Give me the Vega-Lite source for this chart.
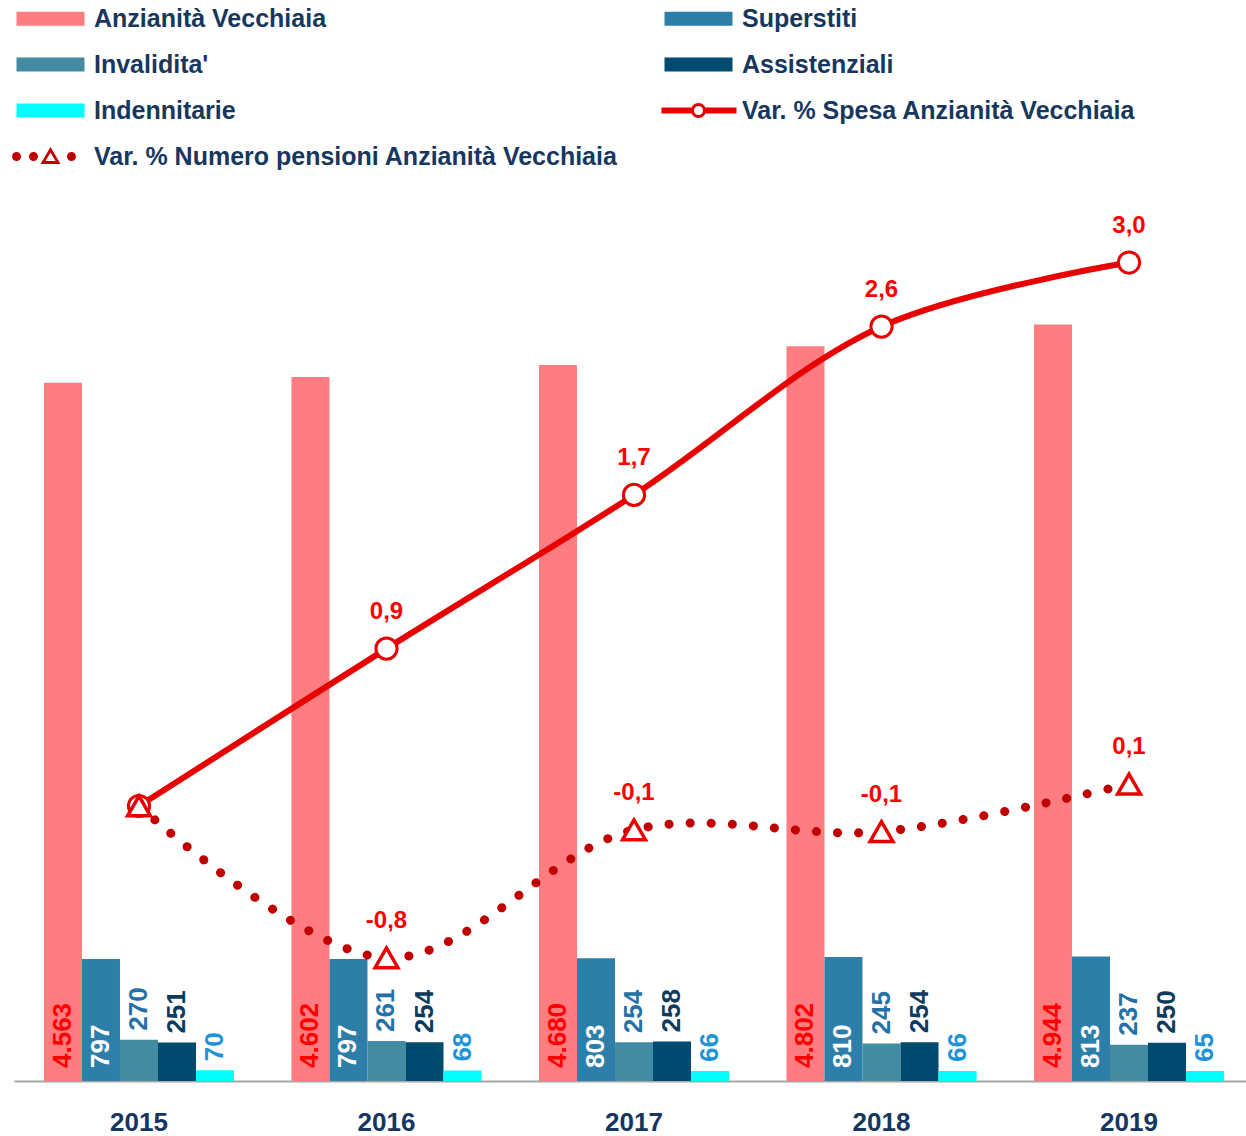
{
  "$schema": "https://vega.github.io/schema/vega-lite/v6.json",
  "width": 1240,
  "height": 918,
  "autosize": {"type": "none"},
  "padding": {"left": 14, "top": 163, "right": 0, "bottom": 55},
  "background": "white",
  "config": {
    "view": {"stroke": null},
    "font": "Liberation Sans",
    "locale": {"number": {"decimal": ",", "thousands": ".", "grouping": [3], "currency": ["€", ""], "minus": "-"}}
  },
  "datasets": {
    "bars": [
      {"year": "2015", "cat": "Anzianità Vecchiaia", "value": 4563},
      {"year": "2015", "cat": "Superstiti", "value": 797},
      {"year": "2015", "cat": "Invalidita'", "value": 270},
      {"year": "2015", "cat": "Assistenziali", "value": 251},
      {"year": "2015", "cat": "Indennitarie", "value": 70},
      {"year": "2016", "cat": "Anzianità Vecchiaia", "value": 4602},
      {"year": "2016", "cat": "Superstiti", "value": 797},
      {"year": "2016", "cat": "Invalidita'", "value": 261},
      {"year": "2016", "cat": "Assistenziali", "value": 254},
      {"year": "2016", "cat": "Indennitarie", "value": 68},
      {"year": "2017", "cat": "Anzianità Vecchiaia", "value": 4680},
      {"year": "2017", "cat": "Superstiti", "value": 803},
      {"year": "2017", "cat": "Invalidita'", "value": 254},
      {"year": "2017", "cat": "Assistenziali", "value": 258},
      {"year": "2017", "cat": "Indennitarie", "value": 66},
      {"year": "2018", "cat": "Anzianità Vecchiaia", "value": 4802},
      {"year": "2018", "cat": "Superstiti", "value": 810},
      {"year": "2018", "cat": "Invalidita'", "value": 245},
      {"year": "2018", "cat": "Assistenziali", "value": 254},
      {"year": "2018", "cat": "Indennitarie", "value": 66},
      {"year": "2019", "cat": "Anzianità Vecchiaia", "value": 4944},
      {"year": "2019", "cat": "Superstiti", "value": 813},
      {"year": "2019", "cat": "Invalidita'", "value": 237},
      {"year": "2019", "cat": "Assistenziali", "value": 250},
      {"year": "2019", "cat": "Indennitarie", "value": 65}
    ],
    "lines": [
      {"year": "2015", "cat": "Var. % Spesa  Anzianità Vecchiaia", "value": 0},
      {"year": "2016", "cat": "Var. % Spesa  Anzianità Vecchiaia", "value": 0.86},
      {"year": "2017", "cat": "Var. % Spesa  Anzianità Vecchiaia", "value": 1.7},
      {"year": "2018", "cat": "Var. % Spesa  Anzianità Vecchiaia", "value": 2.62},
      {"year": "2019", "cat": "Var. % Spesa  Anzianità Vecchiaia", "value": 2.97},
      {"year": "2015", "cat": "Var. % Numero pensioni  Anzianità Vecchiaia", "value": 0},
      {"year": "2016", "cat": "Var. % Numero pensioni  Anzianità Vecchiaia", "value": -0.83},
      {"year": "2017", "cat": "Var. % Numero pensioni  Anzianità Vecchiaia", "value": -0.13},
      {"year": "2018", "cat": "Var. % Numero pensioni  Anzianità Vecchiaia", "value": -0.14},
      {"year": "2019", "cat": "Var. % Numero pensioni  Anzianità Vecchiaia", "value": 0.12}
    ]
  },
  "encoding": {
    "x": {
      "field": "year",
      "type": "ordinal",
      "scale": {"paddingInner": 0.232, "paddingOuter": 0.121},
      "axis": {
        "title": null,
        "labelAngle": 0,
        "ticks": false,
        "labelPadding": 28,
        "labelFontSize": 26,
        "labelFontWeight": "bold",
        "labelColor": "#153660",
        "labelFont": "Liberation Sans",
        "domainColor": "#A6A6A6",
        "domainWidth": 2,
        "grid": false
      }
    }
  },
  "layer": [
    {
      "data": {"name": "bars"},
      "encoding": {
        "xOffset": {
          "field": "cat",
          "type": "nominal",
          "sort": ["Anzianità Vecchiaia", "Superstiti", "Invalidita'", "Assistenziali", "Indennitarie"],
          "scale": {"paddingInner": 0, "paddingOuter": 0}
        }
      },
      "layer": [
        {
          "mark": {"type": "bar"},
          "encoding": {
            "y": {"field": "value", "type": "quantitative", "scale": {"domain": [0, 6000], "nice": false}, "axis": null},
            "color": {
              "field": "cat",
              "type": "nominal",
              "scale": {
                "domain": ["Anzianità Vecchiaia", "Invalidita'", "Indennitarie", "Var. % Numero pensioni  Anzianità Vecchiaia", "Superstiti", "Assistenziali", "Var. % Spesa  Anzianità Vecchiaia"],
                "range": ["#FF7C80", "#418CA2", "#00FFFF", "#C00000", "#2E7EAA", "#024B70", "#E80000"]
              },
              "legend": {
                "orient": "none",
                "legendX": 0,
                "legendY": -157,
                "columns": 2,
                "columnPadding": 36,
                "rowPadding": 20,
                "title": null,
                "symbolSize": 400,
                "symbolType": "M-1,-0.7H5.8V0.7H-1Z",
                "labelOffset": 55,
                "labelFont": "Liberation Sans",
                "labelFontSize": 25,
                "labelFontWeight": "bold",
                "labelColor": "#17375E",
                "labelLimit": 0,
                "encode": {
                  "symbols": {
                    "update": {
                      "shape": {"signal": "datum.index === 6 ? 'M-1.3,-0.3H1.7V0.3H-1.3Z M3.1,-0.3H6.2V0.3H3.1Z M3.15,0A0.75,0.75,0,1,1,1.65,0A0.75,0.75,0,1,1,3.15,0Z M2.85,0A0.45,0.45,0,1,0,1.95,0A0.45,0.45,0,1,0,2.85,0Z' : datum.index === 3 ? 'M-0.55,0A0.45,0.45,0,1,1,-1.45,0A0.45,0.45,0,1,1,-0.55,0Z M1.15,0A0.45,0.45,0,1,1,0.25,0A0.45,0.45,0,1,1,1.15,0Z M4.95,0A0.45,0.45,0,1,1,4.05,0A0.45,0.45,0,1,1,4.95,0Z M2.4,-0.95L3.4,0.75L1.4,0.75Z M2.4,-0.4L1.9,0.45L2.9,0.45Z' : 'M-1,-0.7H5.8V0.7H-1Z'"},
                      "fill": {"scale": "color", "field": "value"},
                      "stroke": {"value": "transparent"},
                      "strokeWidth": {"value": 0},
                      "size": {"value": 400},
                      "opacity": {"value": 1}
                    }
                  }
                }
              }
            }
          }
        },
        {
          "transform": [{"filter": {"field": "cat", "oneOf": ["Anzianità Vecchiaia", "Superstiti"]}}],
          "mark": {"type": "text", "angle": 270, "align": "left", "baseline": "middle", "dx": 13, "fontSize": 26, "fontWeight": "bold", "font": "Liberation Sans"},
          "encoding": {
            "y": {"datum": 0},
            "text": {"field": "value", "type": "quantitative", "format": ",d"},
            "color": {"condition": {"test": "datum.cat === 'Superstiti'", "value": "#FFFFFF"}, "value": "#FF0000"}
          }
        },
        {
          "transform": [{"filter": {"field": "cat", "oneOf": ["Invalidita'", "Assistenziali", "Indennitarie"]}}],
          "mark": {"type": "text", "angle": 270, "align": "left", "baseline": "middle", "dx": 9, "fontSize": 26, "fontWeight": "bold", "font": "Liberation Sans"},
          "encoding": {
            "y": {"field": "value", "type": "quantitative"},
            "text": {"field": "value", "type": "quantitative", "format": ",d"},
            "color": {
              "condition": [
                {"test": "datum.cat === 'Assistenziali'", "value": "#0E3A5C"},
                {"test": "datum.cat === 'Indennitarie'", "value": "#1E93D8"}
              ],
              "value": "#2471A8"
            }
          }
        }
      ]
    },
    {
      "data": {"name": "lines"},
      "encoding": {
        "y": {"field": "value", "type": "quantitative", "scale": {"domain": [-1.503, 3.514], "nice": false, "zero": false}, "axis": null}
      },
      "layer": [
        {
          "transform": [{"filter": {"field": "cat", "equal": "Var. % Spesa  Anzianità Vecchiaia"}}],
          "mark": {"type": "line", "interpolate": "catmull-rom", "strokeWidth": 6},
          "encoding": {"color": {"field": "cat", "type": "nominal"}}
        },
        {
          "transform": [{"filter": {"field": "cat", "equal": "Var. % Numero pensioni  Anzianità Vecchiaia"}}],
          "mark": {"type": "line", "interpolate": "catmull-rom", "strokeWidth": 9, "strokeDash": [0.1, 21], "strokeCap": "round"},
          "encoding": {"color": {"field": "cat", "type": "nominal"}}
        },
        {
          "transform": [{"filter": {"field": "cat", "equal": "Var. % Spesa  Anzianità Vecchiaia"}}],
          "mark": {"type": "point", "shape": "circle", "filled": true, "fill": "#FFFFFF", "stroke": "#E80000", "strokeWidth": 3, "size": 450, "opacity": 1}
        },
        {
          "transform": [{"filter": {"field": "cat", "equal": "Var. % Numero pensioni  Anzianità Vecchiaia"}}],
          "mark": {"type": "point", "shape": "triangle-up", "filled": true, "fill": "#FFFFFF", "stroke": "#E80000", "strokeWidth": 3.5, "size": 520, "opacity": 1}
        },
        {
          "transform": [{"filter": "datum.year != '2015'"}],
          "mark": {"type": "text", "align": "center", "baseline": "middle", "dy": -37, "fontSize": 24, "fontWeight": "bold", "color": "#FF0000", "font": "Liberation Sans"},
          "encoding": {"text": {"field": "value", "type": "quantitative", "format": ".1f"}}
        }
      ]
    }
  ],
  "resolve": {"scale": {"y": "independent"}}
}
